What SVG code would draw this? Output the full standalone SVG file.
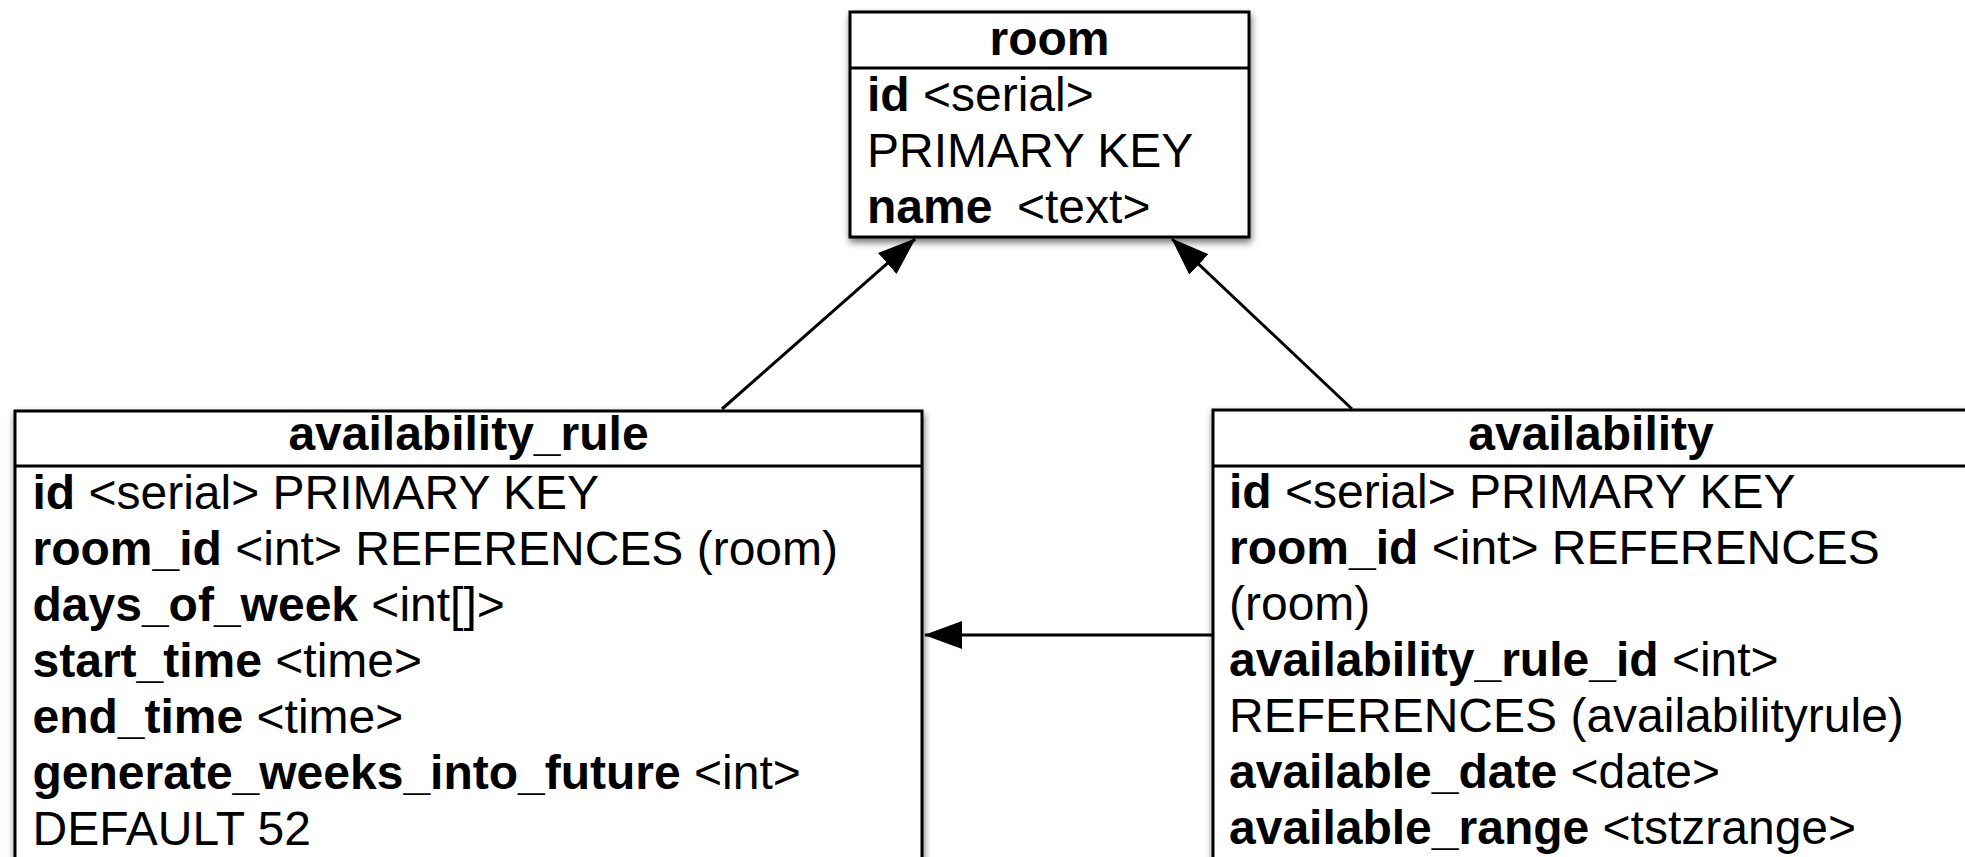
<svg xmlns="http://www.w3.org/2000/svg" width="1965" height="857" viewBox="0 0 1965 857">
  <style>
    .box { fill: #ffffff; stroke: #000000; stroke-width: 3; }
    .rule { stroke: #000000; stroke-width: 3; }
    .title { font-family: "Liberation Sans", Arial, sans-serif; font-size: 48px; font-weight: bold; text-anchor: middle; fill: #000000; }
    .field { font-family: "Liberation Sans", Arial, sans-serif; font-size: 48px; fill: #000000; }
    .field .key { font-weight: bold; }
    .edge { fill: none; stroke: #000000; stroke-width: 3; }
  </style>
  <defs>
    <filter id="shadow" x="-5%" y="-10%" width="110%" height="125%">
      <feDropShadow dx="1" dy="4" stdDeviation="3.5" flood-color="#000000" flood-opacity="0.55"/>
    </filter>
    <marker id="arrow" markerUnits="userSpaceOnUse" markerWidth="38" markerHeight="28" refX="37" refY="14" orient="auto">
      <path d="M0,0 L38,14 L0,28 z" fill="#000000"/>
    </marker>
  </defs>
  <rect width="1965" height="857" fill="#ffffff"/>

  <!-- foreign-key connectors -->
  <g id="connectors">
    <path class="edge" d="M722,409 L915,239" marker-end="url(#arrow)"/>
    <path class="edge" d="M1352,409 L1172,239" marker-end="url(#arrow)"/>
    <path class="edge" d="M1213,635 L925,635" marker-end="url(#arrow)"/>
  </g>

  <!-- room table -->
  <g id="room">
    <rect class="box" x="850" y="12" width="399" height="225" filter="url(#shadow)"/>
    <line class="rule" x1="850" y1="68" x2="1249" y2="68"/>
    <text class="title" x="1049.5" y="55">room</text>
    <text class="field" x="867" y="110.5"><tspan class="key">id</tspan> &lt;serial&gt;</text>
    <text class="field" x="867" y="166.5">PRIMARY KEY</text>
    <text class="field" x="867" y="222.5"><tspan class="key">name</tspan></text>
    <text class="field" x="1017" y="222.5" font-size="42">&lt;text&gt;</text>
  </g>

  <!-- availability_rule table -->
  <g id="availability_rule">
    <rect class="box" x="15" y="411" width="907" height="500" filter="url(#shadow)"/>
    <line class="rule" x1="15" y1="466" x2="922" y2="466"/>
    <text class="title" x="468.5" y="450">availability_rule</text>
    <text class="field" x="32.5" y="508.5"><tspan class="key">id</tspan> &lt;serial&gt; PRIMARY KEY</text>
    <text class="field" x="32.5" y="564.5"><tspan class="key">room_id</tspan> &lt;int&gt; REFERENCES (room)</text>
    <text class="field" x="32.5" y="620.5"><tspan class="key">days_of_week</tspan> &lt;int[]&gt;</text>
    <text class="field" x="32.5" y="676.5"><tspan class="key">start_time</tspan> &lt;time&gt;</text>
    <text class="field" x="32.5" y="732.5"><tspan class="key">end_time</tspan> &lt;time&gt;</text>
    <text class="field" x="32.5" y="788.5"><tspan class="key">generate_weeks_into_future</tspan> &lt;int&gt;</text>
    <text class="field" x="32.5" y="844.5">DEFAULT 52</text>
  </g>

  <!-- availability table -->
  <g id="availability">
    <rect class="box" x="1213" y="410" width="755" height="500" filter="url(#shadow)"/>
    <line class="rule" x1="1213" y1="466" x2="1968" y2="466"/>
    <text class="title" x="1591" y="450">availability</text>
    <text class="field" x="1229" y="508"><tspan class="key">id</tspan> &lt;serial&gt; PRIMARY KEY</text>
    <text class="field" x="1229" y="564"><tspan class="key">room_id</tspan> &lt;int&gt; REFERENCES</text>
    <text class="field" x="1229" y="620">(room)</text>
    <text class="field" x="1229" y="676"><tspan class="key">availability_rule_id</tspan> &lt;int&gt;</text>
    <text class="field" x="1229" y="732">REFERENCES (availabilityrule)</text>
    <text class="field" x="1229" y="788"><tspan class="key">available_date</tspan> &lt;date&gt;</text>
    <text class="field" x="1229" y="844"><tspan class="key">available_range</tspan> &lt;tstzrange&gt;</text>
  </g>
</svg>
